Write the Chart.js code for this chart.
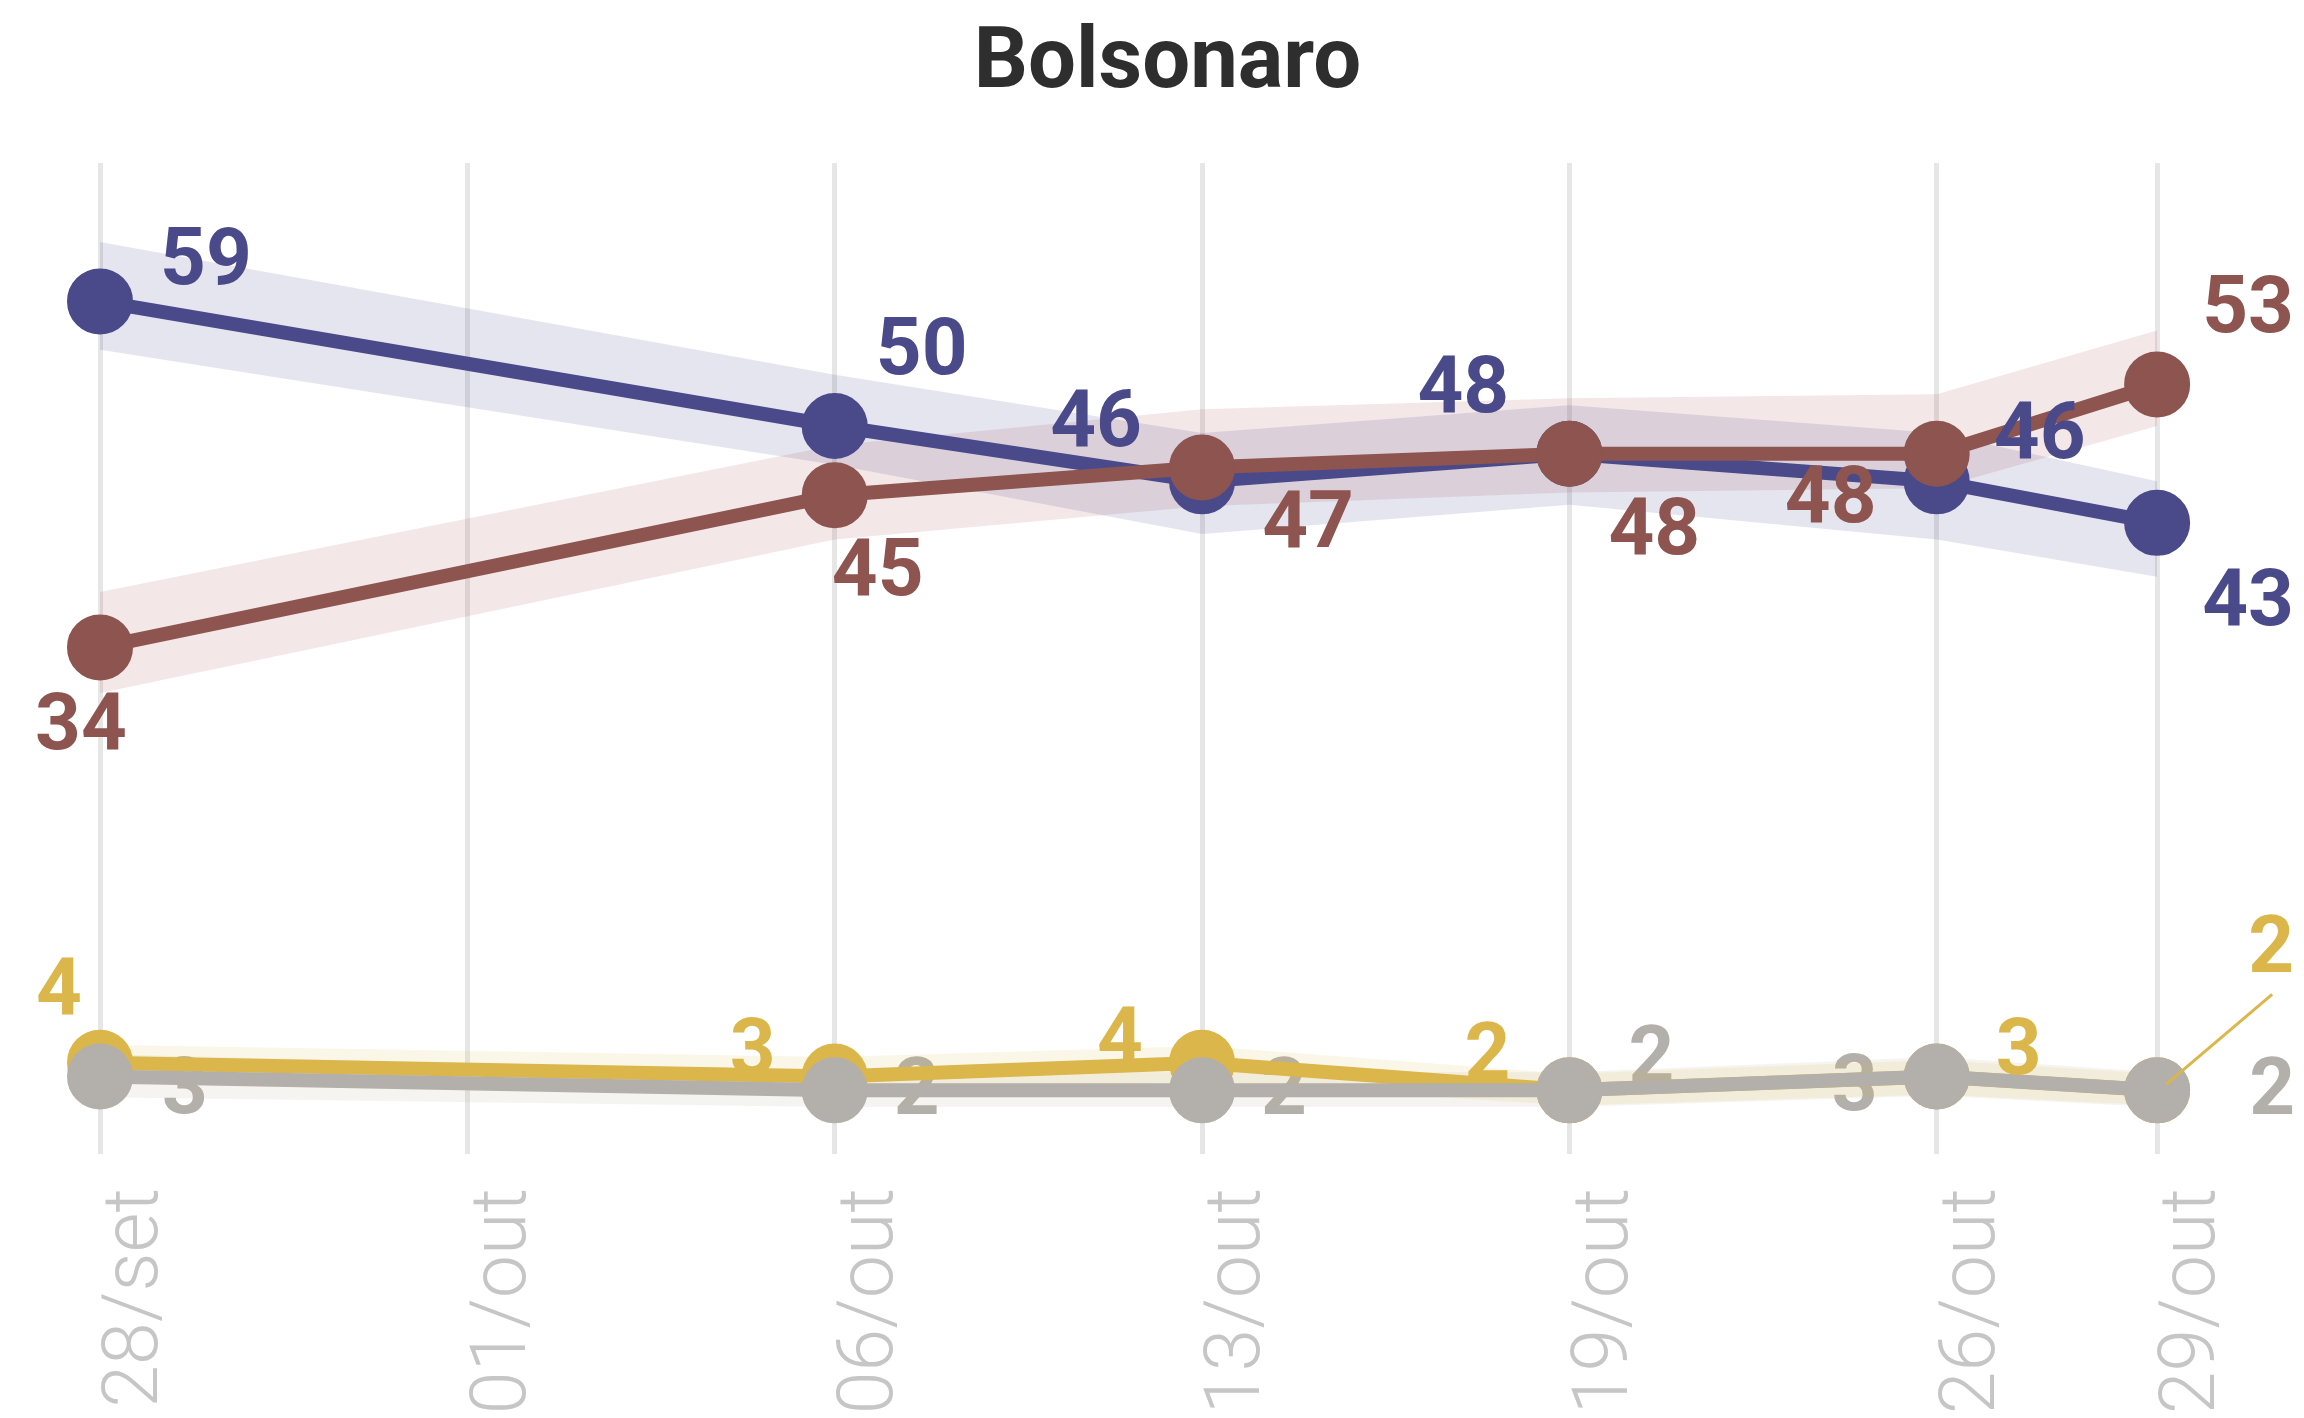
<!DOCTYPE html>
<html lang="pt-BR">
<head>
<meta charset="UTF-8">
<title>Bolsonaro</title>
<script src="https://cdn.jsdelivr.net/npm/chart.js"></script>
<style>
  html, body { margin: 0; padding: 0; background: #fff; }
  #wrap { width: 2304px; height: 1418px; }
</style>
</head>
<body>
<div id="wrap"><canvas id="chart"></canvas></div>
<script>
// axis dates and where they sit on the axis (spacing is not by calendar days)
const dateLabels = ['28/set', '01/out', '06/out', '13/out', '19/out', '26/out', '29/out'];
const datePos = [0, 1, 2, 3, 4, 5, 5.6];
// polls happened on these dates (01/out has none)
const pollIdx = [0, 2, 3, 4, 5, 6];

const blue = [59, 50, 46, 48, 46, 43];
const blueHi = [63.3, 53.7, 49.5, 51.5, 49.5, 46];
const blueLo = [55.5, 47.2, 42.2, 44.3, 41.8, 39.1];

const red = [34, 45, 47, 48, 48, 53];
const redHi = [38, 48.6, 51.2, 52, 52.3, 56.9];
const redLo = [30.7, 41.8, 44.2, 45.2, 45.5, 50];

const yellow = [4, 3, 4, 2, 3, 2];
const yellowHi = [5.3, 4.4, 5.2, 3.2, 4.2, 3.2];
const yellowLo = [2.6, 1.6, 2.6, 0.9, 1.7, 0.9];

const gray = [3, 2, 2, 2, 3, 2];
const grayHi = [4.6, 3.3, 3.3, 3.3, 4.4, 3.3];
const grayLo = [1.5, 0.8, 0.8, 0.8, 1.6, 0.8];

// where each value label sits relative to its point (px)
const blueLabelPos = [[106, -41], [87, -76], [-106, -59], [-106, -66], [103, -47], [91, 78]];
const redLabelPos = [[-19, 78], [43, 76], [106, 56], [85, 76], [-106, 44], [91, -76]];
const yellowLabelPos = [[-41, -73], [-82, -26], [-82, -24], [-82, -35], [82, -26], [114, -142]];
const grayLabelPos = [[85, 13], [82, 0], [82, 0], [82, -32], [-82, 10], [115, 0]];

const pts = vals => vals.map((v, i) => ({ x: datePos[pollIdx[i]], y: v }));

function band(vals, color, fill) {
  return {
    data: pts(vals), borderWidth: 0, pointRadius: 0, tension: 0,
    backgroundColor: color, fill: fill, order: 10
  };
}

function series(vals, color, labelPos, order, layer) {
  return {
    data: pts(vals), borderColor: color, backgroundColor: color,
    borderWidth: 14, pointRadius: 32, pointBorderWidth: 2,
    pointBackgroundColor: color, pointBorderColor: color,
    tension: 0, fill: false, order: order, clip: false,
    labelPos: labelPos, labelLayer: layer
  };
}

const yellowSeries = series(yellow, '#dbb64b', yellowLabelPos, 2, 'over');
yellowSeries.leader = { index: 5, from: [9, -6], to: [115, -96] };

const valueLabels = {
  id: 'valueLabels',
  paint(chart, layer) {
    const ctx = chart.ctx;
    ctx.save();
    ctx.font = 'bold 80px Roboto';
    ctx.textAlign = 'center';
    ctx.textBaseline = 'middle';
    chart.data.datasets.forEach((ds, i) => {
      if (!ds.labelPos || ds.labelLayer !== layer) return;
      const meta = chart.getDatasetMeta(i);
      ctx.fillStyle = ds.borderColor;
      meta.data.forEach((p, j) => {
        const [dx, dy] = ds.labelPos[j];
        ctx.fillText(String(ds.data[j].y), p.x + dx, p.y + dy + 4);
      });
      if (ds.leader) {
        const p = meta.data[ds.leader.index];
        ctx.strokeStyle = ds.borderColor;
        ctx.lineWidth = 3;
        ctx.beginPath();
        ctx.moveTo(p.x + ds.leader.from[0], p.y + ds.leader.from[1]);
        ctx.lineTo(p.x + ds.leader.to[0], p.y + ds.leader.to[1]);
        ctx.stroke();
      }
    });
    ctx.restore();
  },
  beforeDatasetsDraw(chart) { this.paint(chart, 'under'); },
  afterDatasetsDraw(chart) { this.paint(chart, 'over'); }
};

new Chart(document.getElementById('chart'), {
  type: 'line',
  data: {
    datasets: [
      band(blueHi, 'rgba(74, 74, 140, 0.14)', '+1'),
      band(blueLo, 'rgba(0,0,0,0)', false),
      band(redHi, 'rgba(160, 70, 70, 0.13)', '+1'),
      band(redLo, 'rgba(0,0,0,0)', false),
      band(yellowHi, 'rgba(220, 184, 74, 0.13)', '+1'),
      band(yellowLo, 'rgba(0,0,0,0)', false),
      band(grayHi, 'rgba(190, 180, 150, 0.14)', '+1'),
      band(grayLo, 'rgba(0,0,0,0)', false),
      series(blue, '#4a4a8b', blueLabelPos, 4, 'over'),
      series(red, '#8d5450', redLabelPos, 3, 'over'),
      yellowSeries,
      series(gray, '#b3afaa', grayLabelPos, 1, 'under')
    ]
  },
  options: {
    responsive: true,
    maintainAspectRatio: false,
    animation: false,
    layout: { padding: { left: 100, right: 69, top: 0, bottom: 0 } },
    plugins: {
      legend: { display: false },
      tooltip: { enabled: false },
      title: {
        display: true,
        text: 'Bolsonaro',
        color: '#2e2e2e',
        font: { family: 'Roboto', size: 85, weight: 'bold' },
        padding: { top: 15, bottom: 46 }
      }
    },
    scales: {
      x: {
        type: 'linear',
        min: 0,
        max: 5.812,
        afterBuildTicks: s => { s.ticks = datePos.map(v => ({ value: v })); },
        afterFit: s => { s.height = 264; },
        grid: { color: '#e6e6e6', lineWidth: 5, drawTicks: false },
        border: { display: false },
        ticks: {
          autoSkip: false,
          minRotation: 90,
          maxRotation: 90,
          padding: 34,
          labelOffset: 38,
          color: '#c6c6c6',
          font: { family: 'Roboto', size: 77, weight: '300' },
          callback: (v, i) => dateLabels[i]
        }
      },
      y: { display: false, min: -2.6, max: 69 }
    }
  },
  plugins: [valueLabels]
});
</script>
</body>
</html>
